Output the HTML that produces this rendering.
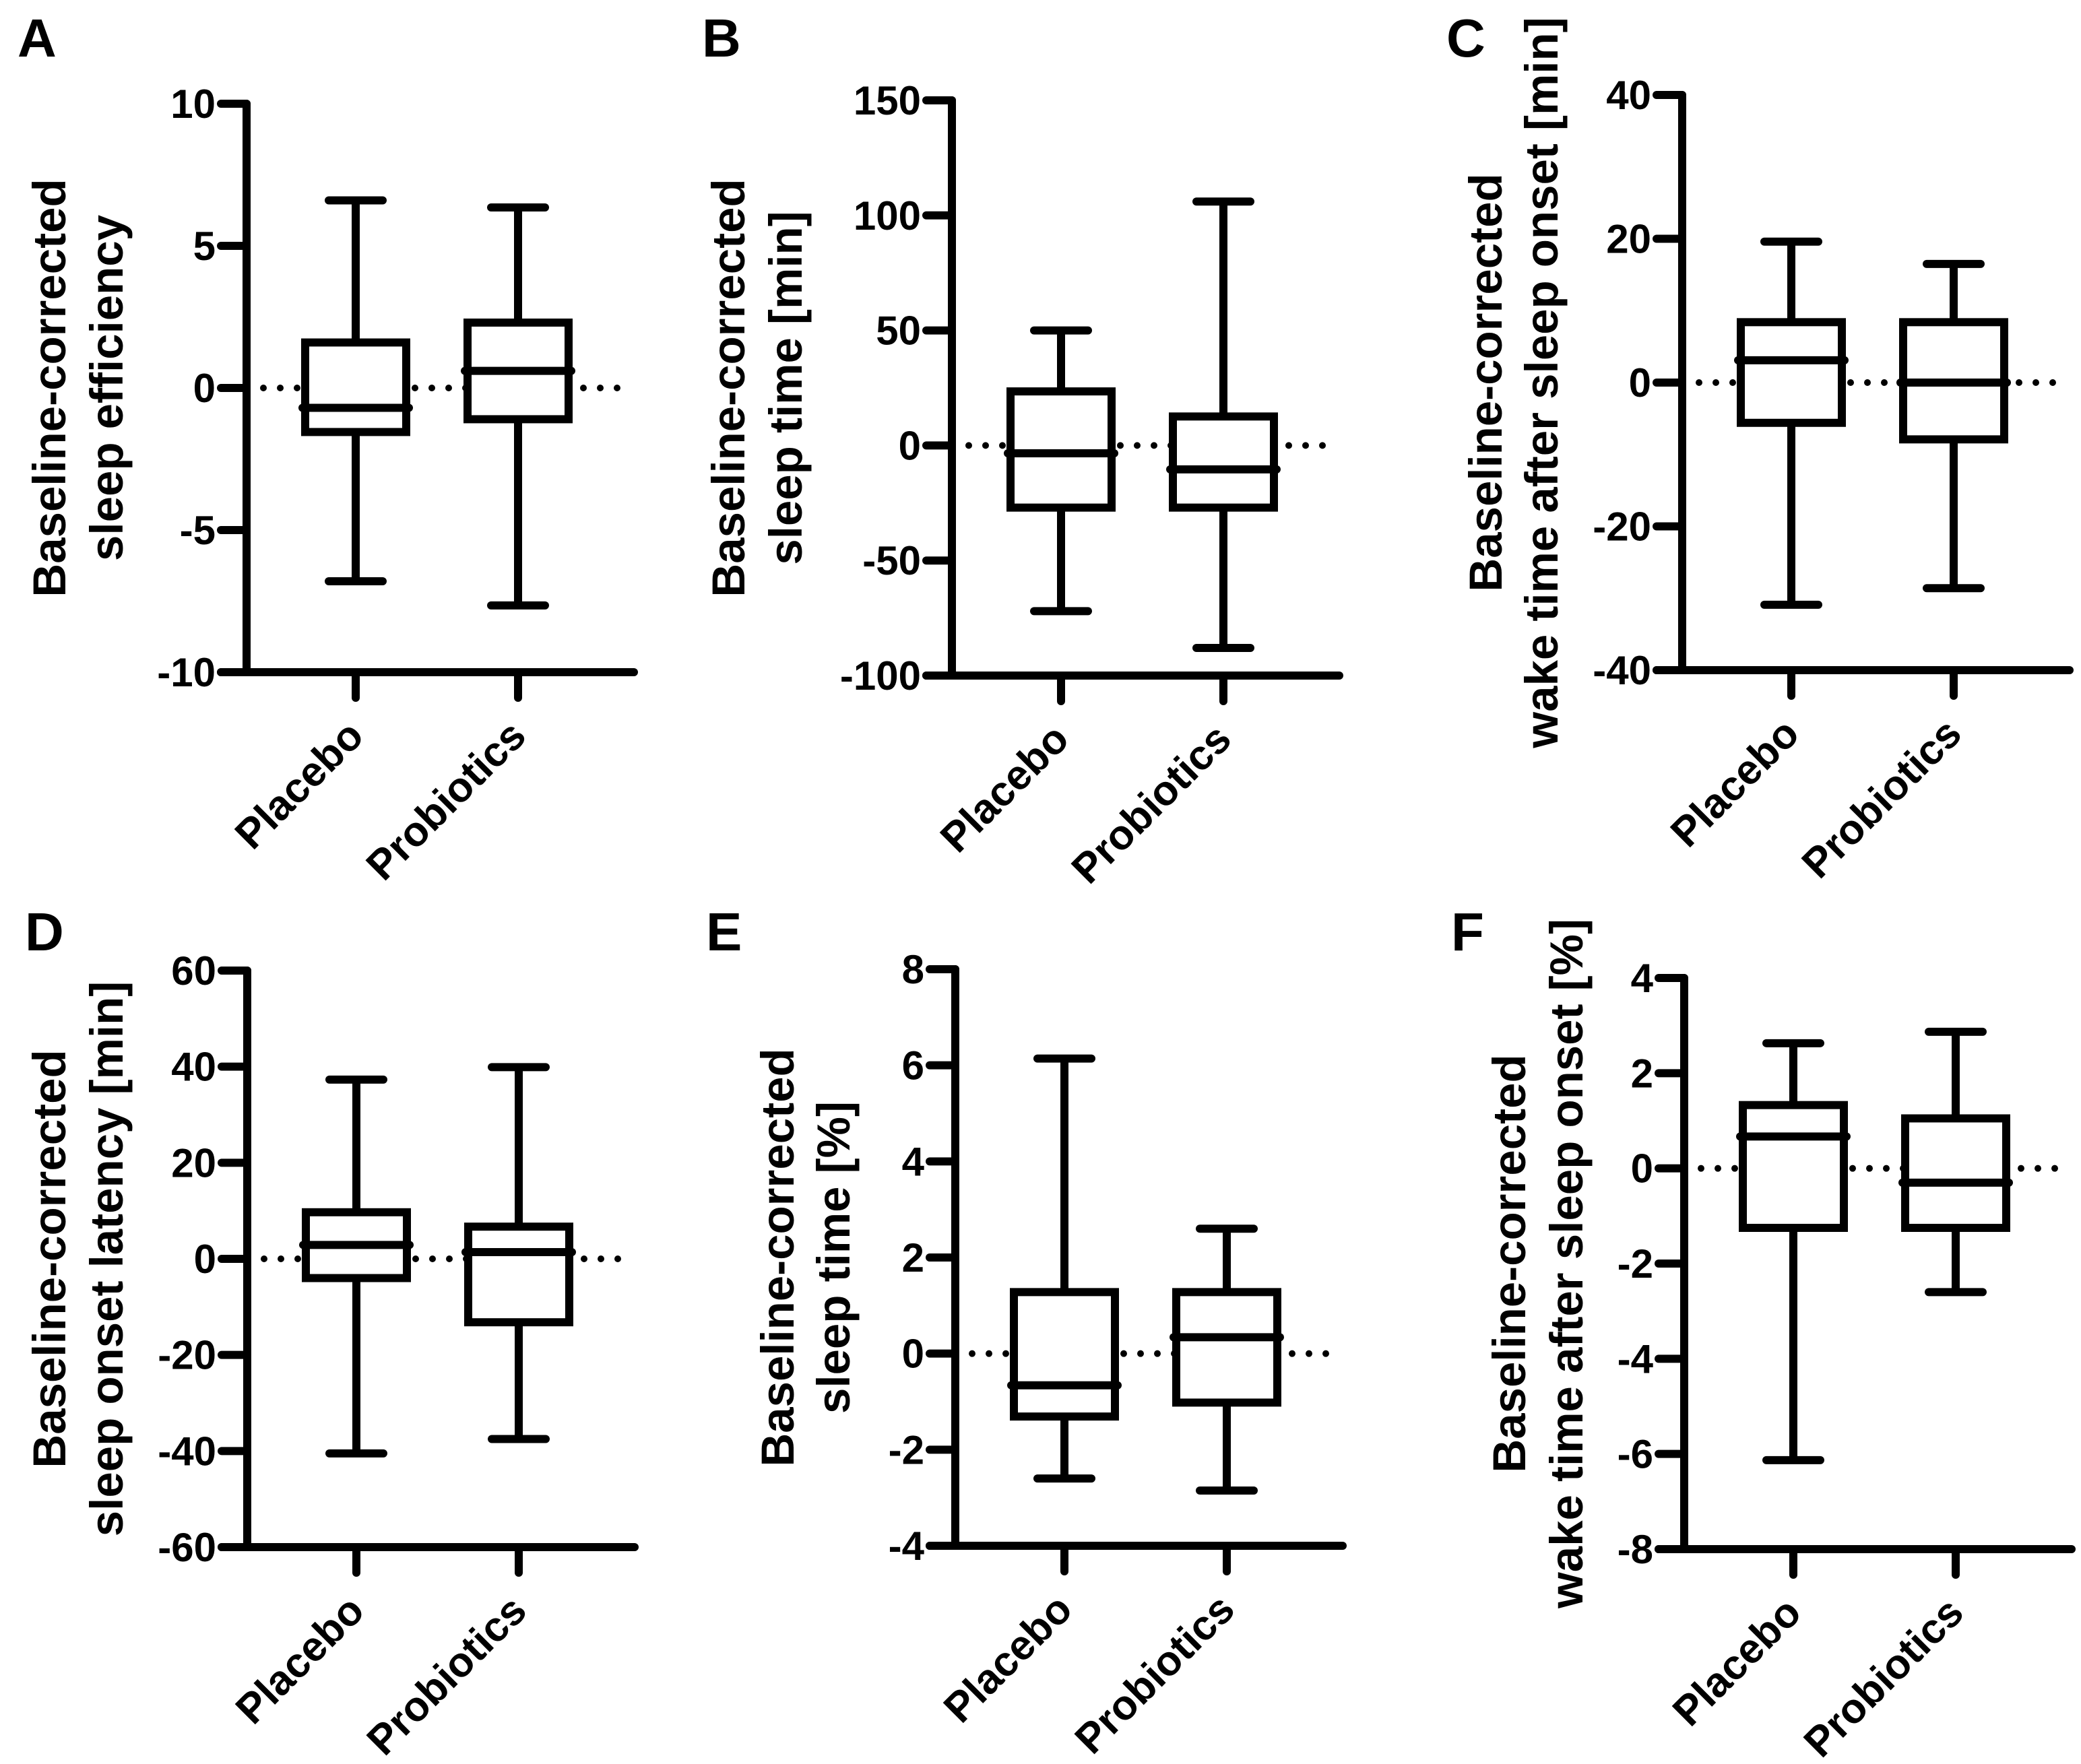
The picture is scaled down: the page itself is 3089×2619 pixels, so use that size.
<!DOCTYPE html>
<html><head><meta charset="utf-8">
<style>
html,body{margin:0;padding:0;background:#fff;}
svg{display:block;}
text{font-family:"Liberation Sans",Arial,sans-serif;font-weight:bold;fill:#000;}
</style></head>
<body>
<svg id="fig" width="3089" height="2619" viewBox="0 0 3089 2619" xmlns="http://www.w3.org/2000/svg"></svg>
<script>
const categories = ["Placebo", "Probiotics"];
// per panel: [max, q3, median, q1, min] for Placebo and Probiotics
const panelLetters = ["A","B","C","D","E","F"];
const placeboA = [6.6, 1.6, -0.7, -1.55, -6.8];
const probioticsA = [6.35, 2.3, 0.6, -1.1, -7.65];
const placeboB = [50, 23.5, -3.4, -27, -72];
const probioticsB = [106, 12.6, -10.4, -27, -88];
const placeboC = [19.6, 8.4, 3.1, -5.6, -30.9];
const probioticsC = [16.5, 8.4, 0, -7.9, -28.6];
const placeboD = [37.3, 9.7, 2.9, -4, -40.5];
const probioticsD = [39.9, 6.7, 1.4, -13.2, -37.5];
const placeboE = [6.14, 1.28, -0.66, -1.31, -2.6];
const probioticsE = [2.6, 1.28, 0.34, -1.02, -2.85];
const placeboF = [2.63, 1.33, 0.67, -1.25, -6.13];
const probioticsF = [2.87, 1.05, -0.3, -1.25, -2.6];
const ticksA = [-10, -5, 0, 5, 10];
const ticksB = [-100, -50, 0, 50, 100, 150];
const ticksC = [-40, -20, 0, 20, 40];
const ticksD = [-60, -40, -20, 0, 20, 40, 60];
const ticksE = [-4, -2, 0, 2, 4, 6, 8];
const ticksF = [-8, -6, -4, -2, 0, 2, 4];
const titlesA = ["Baseline-corrected", "sleep efficiency"];
const titlesB = ["Baseline-corrected", "sleep time [min]"];
const titlesC = ["Baseline-corrected", "wake time after sleep onset [min]"];
const titlesD = ["Baseline-corrected", "sleep onset latency [min]"];
const titlesE = ["Baseline-corrected", "sleep time [%]"];
const titlesF = ["Baseline-corrected", "wake time after sleep onset [%]"];

const layout = [
 {ax:366, top:154, bot:998, t1:97, t2:182, lx:26, ly:84},
 {ax:1413, top:149, bot:1003, t1:1105, t2:1190, lx:1042, ly:84},
 {ax:2497, top:141, bot:995, t1:2229, t2:2312, lx:2147, ly:84},
 {ax:367, top:1441, bot:2297, t1:97, t2:182, lx:37, ly:1411},
 {ax:1418, top:1439, bot:2295, t1:1178, t2:1261, lx:1048, ly:1411},
 {ax:2500, top:1452, bot:2300, t1:2264, t2:2349, lx:2154, ly:1411}
];
const series = [[placeboA,probioticsA],[placeboB,probioticsB],[placeboC,probioticsC],[placeboD,probioticsD],[placeboE,probioticsE],[placeboF,probioticsF]];
const ticks = [ticksA,ticksB,ticksC,ticksD,ticksE,ticksF];
const titles = [titlesA,titlesB,titlesC,titlesD,titlesE,titlesF];

const NS = "http://www.w3.org/2000/svg";
const svg = document.getElementById("fig");
function mk(tag, attrs, parent){
  const e = document.createElementNS(NS, tag);
  for (const k in attrs) e.setAttribute(k, attrs[k]);
  parent.appendChild(e);
  return e;
}
const SW = 12;
layout.forEach((L, p) => {
  const tk = ticks[p];
  const vmin = tk[0], vmax = tk[tk.length-1];
  const y = v => L.bot - (v - vmin) / (vmax - vmin) * (L.bot - L.top);
  const catX = i => L.ax + 162 + i * 241;
  const xEnd = L.ax + 575;
  const g = mk("g", {}, svg);
  
  

  const letter = mk("text", {x:L.lx, y:L.ly, "font-size":80}, g);
  letter.textContent = panelLetters[p];
  
  

  const cy = (L.top + L.bot) / 2;
  [L.t1, L.t2].forEach((tx, i) => {
    const t = mk("text", {x:0, y:0, "font-size":69, "text-anchor":"middle", transform:`translate(${tx},${cy}) rotate(-90)`}, g);
    t.textContent = titles[p][i];
    
    
  });

  // zero dotted line
  const dl = mk("line", {x1:L.ax+25, y1:y(0), x2:xEnd, y2:y(0), stroke:"#000", "stroke-width":10, "stroke-linecap":"round", "stroke-dasharray":"0 25"}, g);
  
  

  // axes
  const ya = mk("line", {x1:L.ax, y1:L.top, x2:L.ax, y2:L.bot, stroke:"#000", "stroke-width":SW, "stroke-linecap":"round"}, g);
  
  
  const xa = mk("line", {x1:L.ax-38, y1:L.bot, x2:xEnd, y2:L.bot, stroke:"#000", "stroke-width":SW, "stroke-linecap":"round"}, g);
  
  

  tk.forEach(v => {
    const tl = mk("line", {x1:L.ax-38, y1:y(v), x2:L.ax, y2:y(v), stroke:"#000", "stroke-width":SW, "stroke-linecap":"round"}, g);
    
    
    const tt = mk("text", {x:L.ax-46, y:y(v)+21, "font-size":60, "text-anchor":"end"}, g);
    tt.textContent = String(v);
    
    
  });

  categories.forEach((c, i) => {
    const cx = catX(i);
    const ct = mk("line", {x1:cx, y1:L.bot, x2:cx, y2:L.bot+38, stroke:"#000", "stroke-width":SW, "stroke-linecap":"round"}, g);
    
    
    const lt = mk("text", {x:0, y:0, "font-size":62, "text-anchor":"end", transform:`translate(${cx+15},${L.bot+98}) rotate(-45)`}, g);
    lt.textContent = c;
    
    

    const d = series[p][i];
    const bg = mk("g", {stroke:"#000", "stroke-width":SW, fill:"none"}, g);
    
    
    mk("line", {x1:cx, y1:y(d[0]), x2:cx, y2:y(d[1])}, bg);
    mk("line", {x1:cx, y1:y(d[3]), x2:cx, y2:y(d[4])}, bg);
    mk("line", {x1:cx-40, y1:y(d[0]), x2:cx+40, y2:y(d[0]), "stroke-linecap":"round"}, bg);
    mk("line", {x1:cx-40, y1:y(d[4]), x2:cx+40, y2:y(d[4]), "stroke-linecap":"round"}, bg);
    mk("rect", {x:cx-75, y:y(d[1]), width:150, height:y(d[3])-y(d[1]), fill:"#fff"}, bg);
    mk("line", {x1:cx-79, y1:y(d[2]), x2:cx+79, y2:y(d[2]), "stroke-linecap":"round"}, bg);
  });
});
</script>
</body></html>
